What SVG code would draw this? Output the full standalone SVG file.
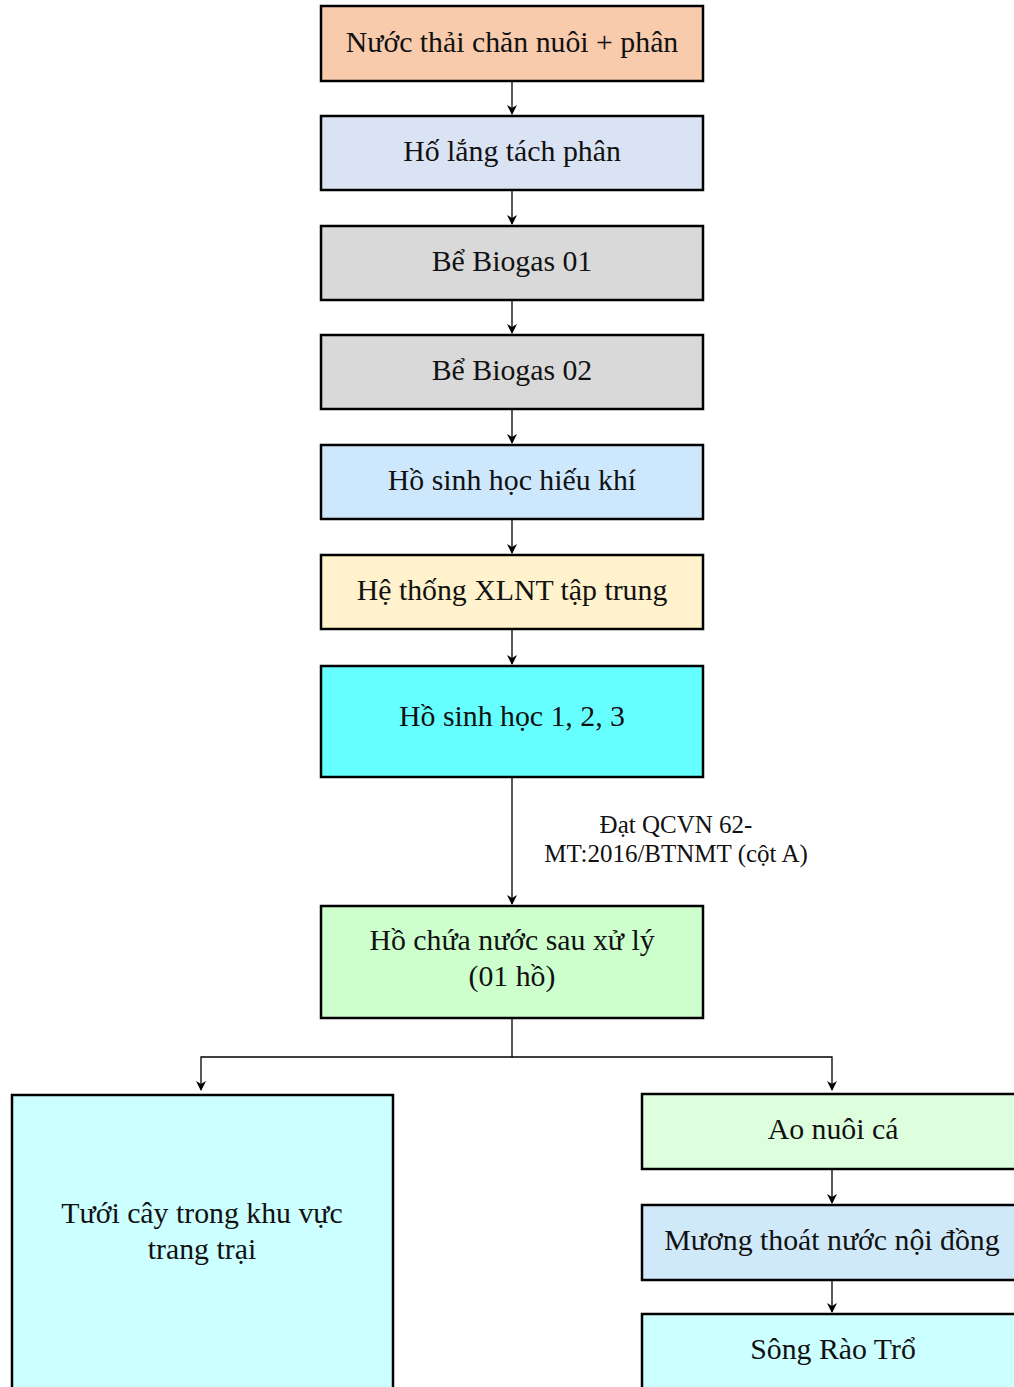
<svg xmlns="http://www.w3.org/2000/svg" width="1014" height="1387" viewBox="0 0 1014 1387">
<style>
.b{stroke:#000;stroke-width:2.5}
.t{font-family:"Liberation Serif","Times New Roman",serif;font-size:29.8px;text-anchor:middle;fill:#111}
.l{font-family:"Liberation Serif","Times New Roman",serif;font-size:25px;text-anchor:middle;fill:#111}
.c{stroke:#000;stroke-width:1.3;fill:none}
</style>
<defs>
<marker id="a" viewBox="0 0 10 10" refX="9" refY="5" markerWidth="10" markerHeight="10" markerUnits="userSpaceOnUse" orient="auto">
<path d="M0,0 L10,5 L0,10 L3,5 Z" fill="#000"/>
</marker>
</defs>
<rect width="1014" height="1387" fill="#fff"/>
<g id="connectors">
<line class="c" x1="512" y1="81" x2="512" y2="114" marker-end="url(#a)"/>
<line class="c" x1="512" y1="190" x2="512" y2="224" marker-end="url(#a)"/>
<line class="c" x1="512" y1="300" x2="512" y2="333" marker-end="url(#a)"/>
<line class="c" x1="512" y1="409" x2="512" y2="443" marker-end="url(#a)"/>
<line class="c" x1="512" y1="519" x2="512" y2="553" marker-end="url(#a)"/>
<line class="c" x1="512" y1="629" x2="512" y2="664" marker-end="url(#a)"/>
<line class="c" x1="512" y1="777" x2="512" y2="904" marker-end="url(#a)"/>
<text class="l" x="676" y="833">Đạt QCVN 62-</text>
<text class="l" x="676" y="862">MT:2016/BTNMT (cột A)</text>
<polyline class="c" points="512,1018 512,1057 201,1057 201,1090" marker-end="url(#a)"/>
<polyline class="c" points="512,1057 832,1057 832,1090" marker-end="url(#a)"/>
<line class="c" x1="832" y1="1169" x2="832" y2="1203" marker-end="url(#a)"/>
<line class="c" x1="832" y1="1280" x2="832" y2="1312" marker-end="url(#a)"/>
</g>
<g id="n1"><rect class="b" x="321" y="6" width="382" height="75" fill="#f8cbad"/><text class="t" x="512" y="52">Nước thải chăn nuôi + phân</text></g>
<g id="n2"><rect class="b" x="321" y="116" width="382" height="74" fill="#dae3f3"/><text class="t" x="512" y="161">Hố lắng tách phân</text></g>
<g id="n3"><rect class="b" x="321" y="226" width="382" height="74" fill="#d9d9d9"/><text class="t" x="512" y="271">Bể Biogas 01</text></g>
<g id="n4"><rect class="b" x="321" y="335" width="382" height="74" fill="#d9d9d9"/><text class="t" x="512" y="380">Bể Biogas 02</text></g>
<g id="n5"><rect class="b" x="321" y="445" width="382" height="74" fill="#cde8fd"/><text class="t" x="512" y="490">Hồ sinh học hiếu khí</text></g>
<g id="n6"><rect class="b" x="321" y="555" width="382" height="74" fill="#fff2cc"/><text class="t" x="512" y="600">Hệ thống XLNT tập trung</text></g>
<g id="n7"><rect class="b" x="321" y="666" width="382" height="111" fill="#66ffff"/><text class="t" x="512" y="726">Hồ sinh học 1, 2, 3</text></g>
<g id="n8"><rect class="b" x="321" y="906" width="382" height="112" fill="#ccffcc"/><text class="t" x="512" y="950">Hồ chứa nước sau xử lý</text><text class="t" x="512" y="986">(01 hồ)</text></g>
<g id="n9"><rect class="b" x="12" y="1095" width="381" height="300" fill="#ccffff"/><text class="t" x="202" y="1223">Tưới cây trong khu vực</text><text class="t" x="202" y="1259">trang trại</text></g>
<g id="n10"><rect class="b" x="642" y="1094" width="380" height="75" fill="#ddffdd"/><text class="t" x="833" y="1139">Ao nuôi cá</text></g>
<g id="n11"><rect class="b" x="642" y="1205" width="380" height="75" fill="#d0e9f9"/><text class="t" x="832" y="1250">Mương thoát nước nội đồng</text></g>
<g id="n12"><rect class="b" x="642" y="1314" width="380" height="90" fill="#ccffff"/><text class="t" x="833" y="1359">Sông Rào Trổ</text></g>
</svg>
